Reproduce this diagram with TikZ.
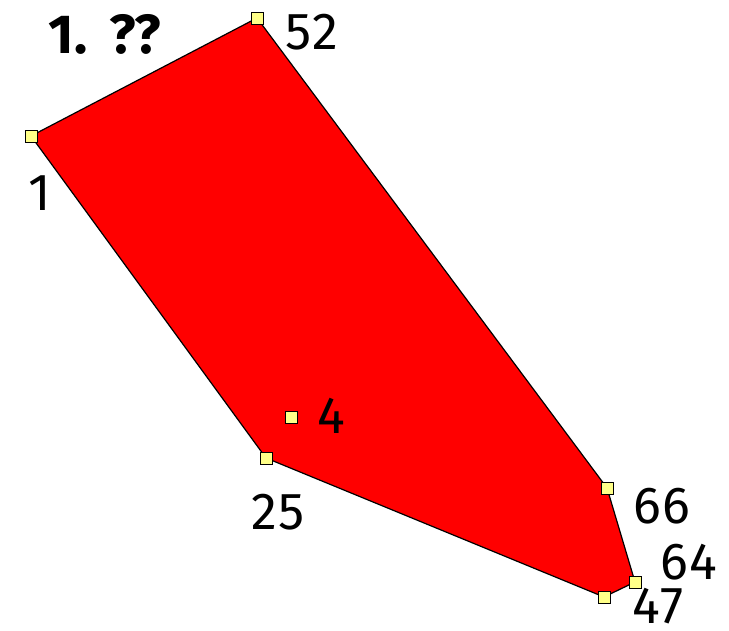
\documentclass[tikz,border=0pt]{standalone}
\usepackage{fontspec}
\setmainfont{Fira Sans}
\usetikzlibrary{positioning}
\definecolor{polyred}{HTML}{FF0000}
\definecolor{vtxyellow}{HTML}{FFFF88}

\begin{document}
\begin{tikzpicture}[x=1pt, y=-1pt,
    vtx/.style={draw=black, fill=vtxyellow, line width=0.9pt,
                minimum size=12pt, inner sep=0pt, rectangle},
    vlab/.style={font=\fontsize{52}{54}\selectfont\addfontfeature{LetterSpace=2}, inner sep=0pt},
    ttl/.style={font=\fontsize{55}{57}\selectfont\bfseries, inner sep=0pt}]
  \useasboundingbox (0,0) rectangle (729,631);

  %% Polygon corners
  \coordinate (p1)  at (31,136);
  \coordinate (p52) at (257,18);
  \coordinate (p66) at (607,488);
  \coordinate (p64) at (635,582);
  \coordinate (p47) at (604,597);
  \coordinate (p25) at (266,458);
  \coordinate (p4)  at (291,417);

  \filldraw[fill=polyred, draw=black, line width=1.2pt, line join=round]
    (p1) -- (p52) -- (p66) -- (p64) -- (p47) -- (p25) -- cycle;

  %% Vertex markers
  \foreach \v in {1,52,66,64,47,25,4} {
    \node[vtx] (v\v) at (p\v) {};
  }

  %% Vertex labels
  \node[vlab] (l52) at (312,32)  {52};
  \node[vlab] (l1)  at (40,193)  {1};
  \node[vlab] (l4)  at (331,416) {4};
  \node[vlab] (l25) at (278,512) {25};
  \node[vlab] (l66) at (662,506) {66};
  \node[vlab] (l64) at (689,562) {64};
  \node[vlab] (l47) at (658,606) {47};

  \node[ttl] (title) at (105,34) {1.\ \,??};
\end{tikzpicture}
\end{document}
